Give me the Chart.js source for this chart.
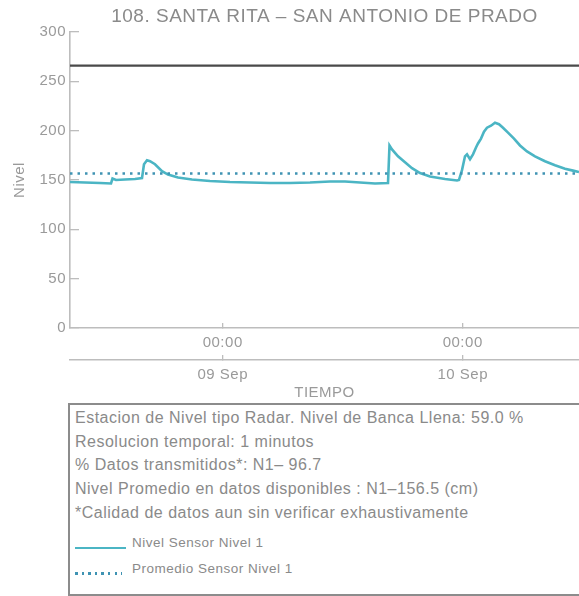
<!DOCTYPE html>
<html>
<head>
<meta charset="utf-8">
<script src="https://cdn.jsdelivr.net/npm/chart.js@4.4.1/dist/chart.umd.min.js"></script>
<style>
  html, body { margin: 0; padding: 0; background: #fff; overflow: hidden; width: 579px; height: 596px; }
  body { position: relative; font-family: "Liberation Sans", Arial, Helvetica, sans-serif; letter-spacing: 0.5px; }
  #c { position: absolute; left: 0; top: 0; }
  #box { position: absolute; left: 68px; top: 403px; width: 540px; height: 189px; border: 2px solid #8c8c8c; box-sizing: content-box; }
  #boxtext { position: absolute; left: 75px; top: 406px; color: #8a8a8a; font-size: 16px; line-height: 23.7px; white-space: nowrap; }
  .lg { position: absolute; left: 75px; }
  .lgtxt { position: absolute; left: 132px; color: #8a8a8a; font-size: 13.5px; line-height: 16px; white-space: nowrap; }
</style>
</head>
<body>
<canvas id="c" width="579" height="402"></canvas>
<div id="box"></div>
<div id="boxtext"></div>
<div class="lg" id="lg1" style="top:547px;width:51px;height:2px;"></div>
<div class="lgtxt" id="lt1" style="top:535px;"></div>
<div class="lg" id="lg2" style="top:572px;width:47px;height:2.5px;"></div>
<div class="lgtxt" id="lt2" style="top:561px;"></div>
<script>
// ---- data (x = hours since 08 Sep 00:00) ----
const hours = [8.73,10.23,11.73,12.83,12.98,13.33,14.23,15.23,15.93,16.13,16.43,16.73,17.23,17.93,18.53,19.53,20.93,22.73,24.73,26.73,28.73,30.73,32.73,34.73,36.23,37.73,39.23,40.53,40.68,40.93,41.53,42.23,42.93,43.73,44.73,46.23,47.43,47.63,47.93,48.23,48.43,48.73,49.03,49.33,49.53,49.83,50.13,50.43,50.83,51.23,51.63,52.03,52.53,53.13,53.73,54.43,55.23,56.23,57.23,58.23,59.03,59.63];
const nivel = [148,147.5,147,146.5,151.5,150,150.5,151,152,166,170,169,166,159,155.5,152.5,150.5,149,148,147.5,147,147,147.5,148.5,148.5,147.5,146.5,147,185,181,174,168,162,157,153.5,151,149.5,150,160,174,176,171,176,183,187,192,199,203,205,208,206.5,203,198,192,185,179,174,169,165,161.5,159.5,158];
const promedio = 156.5;
const bancaLlena = 266;
const xRange = [8.73, 59.63];
const tickPositions = [24, 48];
const timeTickLabels = ['00:00', '00:00'];
const dateTickLabels = ['09 Sep', '10 Sep'];
const yTicks = [0, 50, 100, 150, 200, 250, 300];
const titleText = '108. SANTA RITA \u2013 SAN ANTONIO DE PRADO';
const xTitle = 'TIEMPO';
const yTitle = 'Nivel';
const infoLines = [
  'Estacion de Nivel tipo Radar. Nivel de Banca Llena: 59.0 %',
  'Resolucion temporal: 1 minutos',
  '% Datos transmitidos*: N1\u2013 96.7',
  'Nivel Promedio en datos disponibles : N1\u2013156.5 (cm)',
  '*Calidad de datos aun sin verificar exhaustivamente'
];
const legendLabels = ['Nivel Sensor Nivel 1', 'Promedio Sensor Nivel 1'];

const teal = '#4bb5c4';
const dotBlue = '#3f93b3';
const gray = '#9a9a9a';
const axisGray = '#bdbdbd';

// ---- HTML info box ----
document.getElementById('boxtext').innerHTML = infoLines.map(s => '<div>' + s + '</div>').join('');
document.getElementById('lt1').textContent = legendLabels[0];
document.getElementById('lt2').textContent = legendLabels[1];
document.getElementById('lg1').style.background = teal;
document.getElementById('lg2').style.background = 'repeating-linear-gradient(to right,' + dotBlue + ' 0 2.5px, transparent 2.5px 6.6px)';

const mainData = hours.map((h, i) => ({x: h, y: nivel[i]}));
const meanData = xRange.map(h => ({x: h, y: promedio}));
const bancaData = xRange.map(h => ({x: h, y: bancaLlena}));

const font = {family: '"Liberation Sans", Arial, sans-serif', size: 15};

const spacingPlugin = {
  id: 'spacing',
  beforeDraw(chart) { chart.ctx.letterSpacing = '0.5px'; }
};

new Chart(document.getElementById('c'), {
  type: 'scatter',
  data: {
    datasets: [
      {data: bancaData, showLine: true, borderColor: '#4a4a4a', borderWidth: 2.2, pointRadius: 0},
      {data: meanData, showLine: true, borderColor: dotBlue, borderWidth: 2.5, borderDash: [2.5, 5], pointRadius: 0},
      {data: mainData, showLine: true, borderColor: teal, borderWidth: 2.6, pointRadius: 0, tension: 0}
    ]
  },
  options: {
    responsive: false,
    animation: false,
    layout: {padding: 0},
    plugins: {
      legend: {display: false},
      tooltip: {enabled: false},
      title: {
        display: true, text: titleText, fullSize: false, color: '#8a8a8a',
        font: {family: font.family, size: 19, weight: 'normal'},
        padding: {top: 5.3, bottom: 3.9}
      }
    },
    scales: {
      x: {
        type: 'linear', position: 'bottom', weight: 0,
        min: xRange[0], max: xRange[1],
        afterBuildTicks: s => { s.ticks = tickPositions.map(v => ({value: v})); },
        afterFit: s => { s.height = 32; },
        ticks: {color: gray, font: font, padding: 10.5, maxRotation: 0, autoSkip: false,
                callback: (v, i) => timeTickLabels[i]},
        grid: {drawOnChartArea: false, drawTicks: true, tickLength: -5, color: axisGray, lineWidth: 1.3},
        border: {display: true, color: axisGray, width: 1.6}
      },
      x2: {
        type: 'linear', position: 'bottom', weight: 1,
        min: xRange[0], max: xRange[1],
        afterBuildTicks: s => { s.ticks = tickPositions.map(v => ({value: v})); },
        afterFit: s => { s.height = 42; },
        ticks: {color: gray, font: font, padding: 11, maxRotation: 0, autoSkip: false,
                callback: (v, i) => dateTickLabels[i]},
        grid: {drawOnChartArea: false, drawTicks: true, tickLength: -5, color: axisGray, lineWidth: 1.3},
        border: {display: true, color: axisGray, width: 1.6},
        title: {display: true, text: xTitle, color: gray, font: font, padding: {top: 0, bottom: 0}}
      },
      y: {
        type: 'linear', position: 'left', min: 0, max: 300,
        afterBuildTicks: s => { s.ticks = yTicks.map(v => ({value: v})); },
        afterFit: s => { s.width = 70; },
        ticks: {color: gray, font: font, padding: 13},
        grid: {drawOnChartArea: false, drawTicks: true, tickLength: -9, color: axisGray, lineWidth: 1.3},
        border: {display: true, color: axisGray, width: 1.6},
        title: {display: true, text: yTitle, color: gray, font: font, padding: {top: 11, bottom: 0}}
      }
    }
  },
  plugins: [spacingPlugin]
});
</script>
</body>
</html>
